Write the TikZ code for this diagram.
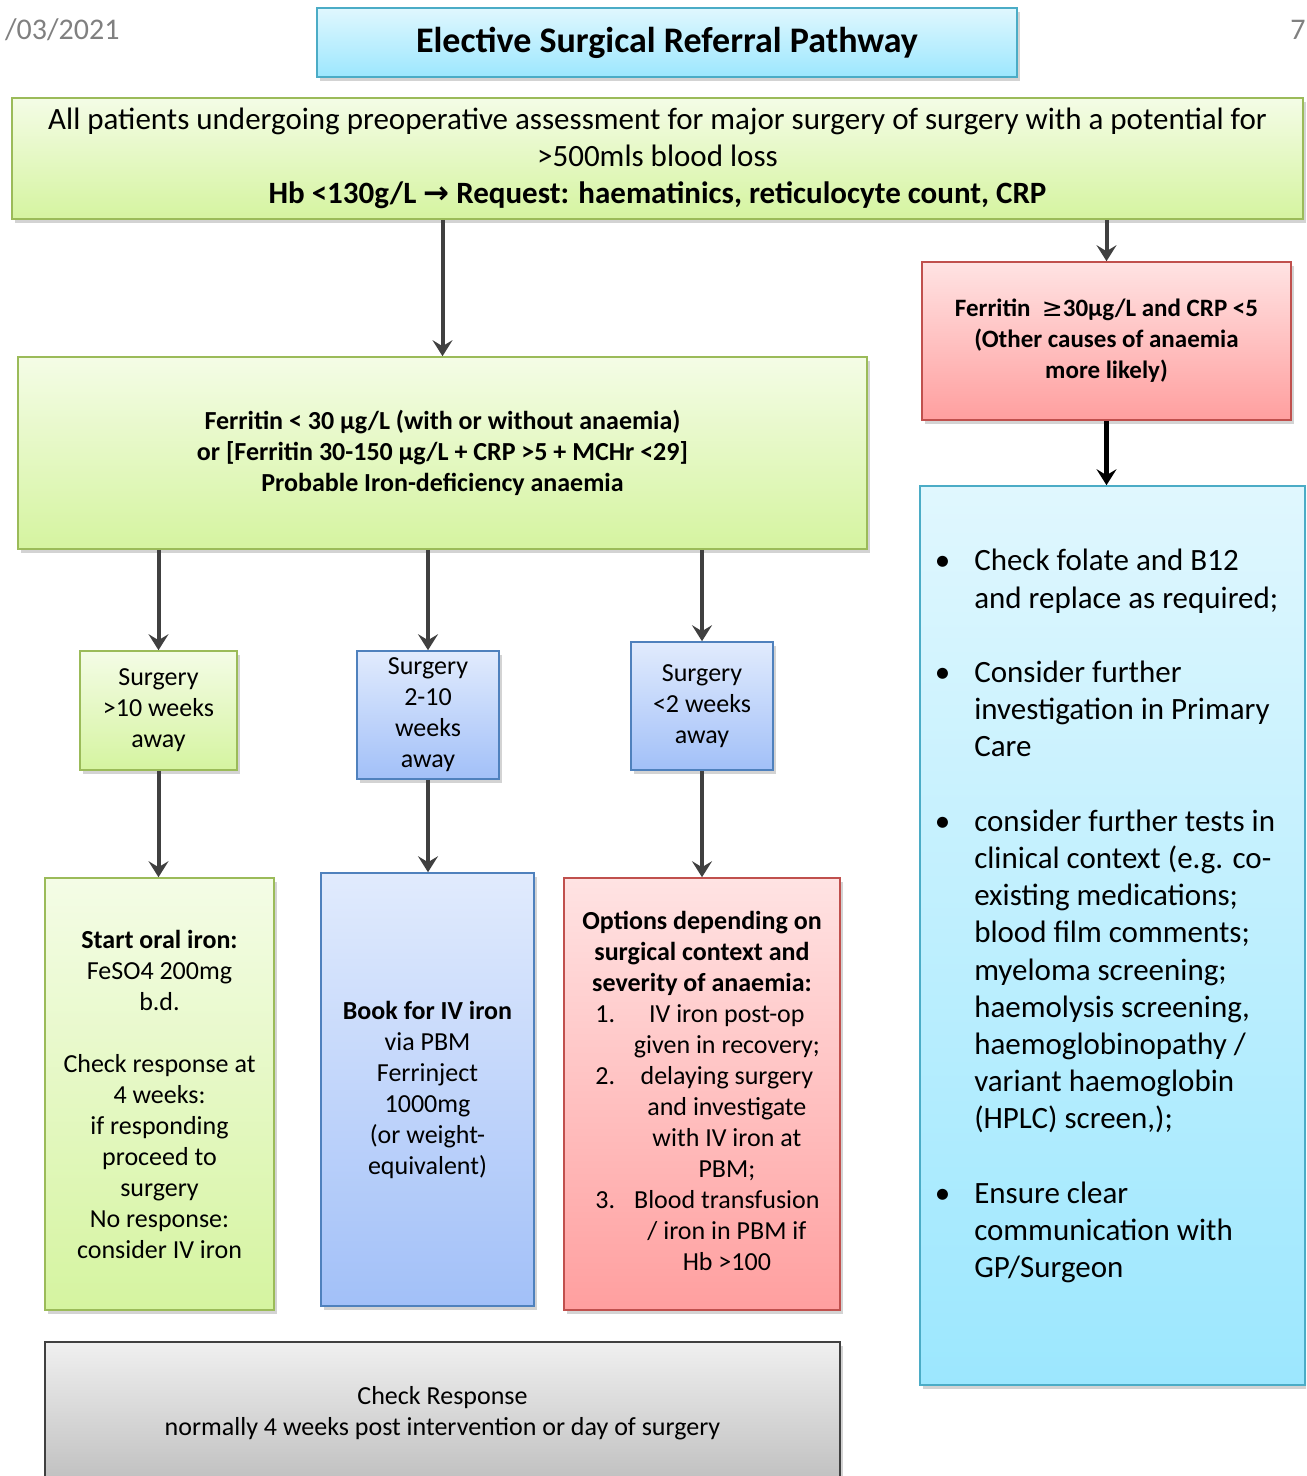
\documentclass[tikz,border=0pt]{standalone}
\usepackage{fontspec}
\setmainfont{Carlito}
\newfontfamily\symfont{DejaVu Sans}
\usetikzlibrary{arrows.meta,shadows}

\definecolor{grntop}{HTML}{F4FCE6}
\definecolor{grnbot}{HTML}{D5F4A0}
\definecolor{grnline}{HTML}{9BBB59}
\definecolor{blutop}{HTML}{E1EBFD}
\definecolor{blubot}{HTML}{A2C0F8}
\definecolor{bluline}{HTML}{4F81BD}
\definecolor{redtop}{HTML}{FFE3E3}
\definecolor{redbot}{HTML}{FF9F9F}
\definecolor{redline}{HTML}{C0504D}
\definecolor{cyntop}{HTML}{E0F7FE}
\definecolor{cynbot}{HTML}{9CE7FE}
\definecolor{cynline}{HTML}{4BACC6}
\definecolor{arrgray}{HTML}{404040}

\begin{document}
\begin{tikzpicture}[x=0.5pt,y=-0.5pt,
box/.style = {% every flow box
    draw, line width=0.8pt, align=center, inner sep=2pt,
    drop shadow={opacity=0.35,shadow xshift=1.5pt,shadow yshift=-2pt},
    font=\fontsize{13}{15.5}\selectfont,
            },
greenbox/.style = {box, draw=grnline, top color=grntop, bottom color=grnbot},
bluebox/.style  = {box, draw=bluline, top color=blutop, bottom color=blubot},
redbox/.style   = {box, draw=redline, top color=redtop, bottom color=redbot},
cyanbox/.style  = {box, draw=cynline, top color=cyntop, bottom color=cynbot},
greybox/.style  = {box, draw=black!75, top color=black!6, bottom color=black!25},
arr/.style = {-{Stealth[length=8pt,width=10pt,inset=3pt]},
    line width=2pt, draw=arrgray},
                    ]
\clip (0,0) rectangle (1306,1476);

% header
\node[gray, anchor=west, font=\fontsize{15}{18}\selectfont] (date) at (-2,30) {/03/2021};
\node[gray, anchor=east, inner sep=0pt, font=\fontsize{15}{18}\selectfont] (page) at (1306,30) {7};
\node[cyanbox, minimum width=350pt, minimum height=34.5pt,
      font=\fontsize{18}{21}\selectfont\bfseries] (title) at (667,42.5)
      {Elective Surgical Referral Pathway};

\node[greenbox, minimum width=645.5pt, minimum height=60.5pt,
      font=\fontsize{15.5}{18.5}\selectfont] (top) at (657.5,158.5)
      {All patients undergoing preoperative assessment for major surgery of surgery with a potential for\\
       >500mls blood loss\\
       \textbf{Hb <130g/L {\symfont\bfseries →} Request: haematinics, reticulocyte count, CRP}};

% right branch
\node[redbox, minimum width=184.5pt, minimum height=79pt, font=\fontsize{12.5}{15.5}\selectfont\bfseries]
      (other) at (1106.5,341)
      {Ferritin\ \ {\symfont\mdseries ≥}30µg/L and CRP <5\\(Other causes of anaemia\\more likely)};
\node[cyanbox, minimum width=192.5pt, minimum height=449.5pt, font=\fontsize{15.5}{18.6}\selectfont]
      (checks) at (1112.5,935.5)
      {\begin{tabular}{@{}l@{\hspace{12pt}}l@{\hspace{6pt}}}
        \textbullet & Check folate and B12\\
                    & and replace as required;\\
                    & \\
        \textbullet & Consider further\\
                    & investigation in Primary\\
                    & Care\\
                    & \\
        \textbullet & consider further tests in\\
                    & clinical context (e.g. co-\\
                    & existing medications;\\
                    & blood film comments;\\
                    & myeloma screening;\\
                    & haemolysis screening,\\
                    & haemoglobinopathy /\\
                    & variant haemoglobin\\
                    & (HPLC) screen,);\\
                    & \\
        \textbullet & Ensure clear\\
                    & communication with\\
                    & GP/Surgeon\\
                    & \\
       \end{tabular}};

% left branch
\node[greenbox, minimum width=424.5pt, minimum height=96pt, font=\fontsize{13}{15.5}\selectfont\bfseries]
      (ferr) at (442.5,453)
      {Ferritin < 30 µg/L (with or without anaemia)\\
       or [Ferritin 30-150 µg/L + CRP >5 + MCHr <29]\\
       Probable Iron-deficiency anaemia};

\node[greenbox, minimum width=78.5pt, minimum height=59.5pt] (wk10) at (158.5,710.5)
      {Surgery\\>10 weeks\\away};
\node[bluebox, minimum width=71pt, minimum height=64pt] (wk2to10) at (428,715)
      {Surgery\\2-10\\weeks\\away};
\node[bluebox, minimum width=71pt, minimum height=64pt] (wk2) at (702,706)
      {Surgery\\<2 weeks\\away};

\node[greenbox, minimum width=114.5pt, minimum height=216pt] (oral) at (159.5,1094)
      {\textbf{Start oral iron:}\\FeSO4 200mg\\b.d.\\[15.5pt]Check response at\\4 weeks:\\
       if responding\\proceed to\\surgery\\No response:\\consider IV iron};
\node[bluebox, minimum width=106.5pt, minimum height=216.5pt] (ivbook) at (427.5,1089.5)
      {\textbf{Book for IV iron}\\via PBM\\Ferrinject\\1000mg\\(or weight-\\equivalent)};
\node[redbox, minimum width=138pt, minimum height=216pt] (options) at (702,1094)
      {\begin{tabular}{@{\hspace{12.5pt}}l@{\hspace{2.5pt}}c@{}}
        \multicolumn{2}{c}{\bfseries Options depending on}\\
        \multicolumn{2}{c}{\bfseries surgical context and}\\
        \multicolumn{2}{c}{\bfseries severity of anaemia:}\\
        1. & IV iron post-op\\
           & given in recovery;\\
        2. & delaying surgery\\
           & and investigate\\
           & with IV iron at\\
           & PBM;\\
        3. & Blood transfusion\\
           & / iron in PBM if\\
           & Hb >100\\
       \end{tabular}};

\node[greybox, minimum width=397.5pt, minimum height=71pt] (response) at (442.5,1413)
      {Check Response\\normally 4 weeks post intervention or day of surgery};

% connectors
\draw[arr] (top.south -| ferr) -- (ferr.north);
\draw[arr] (top.south -| other) -- (other.north);
\draw[arr, draw=black, line width=2.5pt] (other.south) -- (other.south |- checks.north);
\foreach \n in {wk10,wk2to10,wk2}
  \draw[arr] (ferr.south -| \n) -- (\n.north);
\draw[arr] (wk10.south) -- (wk10.south |- oral.north);
\draw[arr] (wk2to10.south) -- (wk2to10.south |- ivbook.north);
\draw[arr] (wk2.south) -- (wk2.south |- options.north);

\end{tikzpicture}
\end{document}
